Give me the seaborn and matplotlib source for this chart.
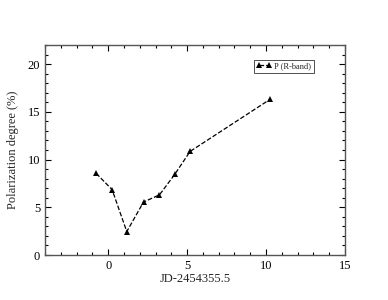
import matplotlib
matplotlib.use("Agg")
import matplotlib.pyplot as plt
import seaborn as sns
import pandas as pd
from matplotlib.ticker import MultipleLocator

# data
jd = [-0.76, 0.25, 1.18, 2.24, 3.25, 4.22, 5.19, 10.25]
pol = [8.55, 6.85, 2.45, 5.55, 6.3, 8.45, 10.85, 16.3]
df = pd.DataFrame({"jd": jd, "pol": pol})

sns.set_style("ticks")
plt.rcParams["font.family"] = ["Liberation Serif", "DejaVu Serif"]

fig = plt.figure(figsize=(3.88, 3.0), dpi=100)
ax = fig.add_axes([0.116, 0.15, 0.773, 0.70])

sns.lineplot(data=df, x="jd", y="pol", ax=ax, color="black", linestyle="--",
             linewidth=0.9, marker="^", markersize=5, markeredgewidth=0,
             label="P (R-band)")

ax.set_xlim(-4, 15)
ax.set_ylim(0, 22)
ax.xaxis.set_major_locator(MultipleLocator(5))
ax.xaxis.set_minor_locator(MultipleLocator(1))
ax.yaxis.set_major_locator(MultipleLocator(5))
ax.yaxis.set_minor_locator(MultipleLocator(1))
ax.tick_params(which="both", direction="in", top=True, right=True,
               labelsize=9, colors="black", width=0.8)
ax.tick_params(which="major", length=4)
ax.tick_params(which="minor", length=2.5)
for s in ax.spines.values():
    s.set_color("#555555")
    s.set_linewidth(1.0)

ax.set_xlabel("JD-2454355.5", fontsize=9, labelpad=1)
ax.set_ylabel("Polarization degree (%)", fontsize=9, labelpad=6)

leg = ax.legend(loc="upper right", bbox_to_anchor=(0.91, 0.95), fontsize=6,
                frameon=True, fancybox=False, handlelength=1.8, numpoints=2,
                borderpad=0.3, handletextpad=0.3)
leg.get_frame().set_edgecolor("black")
leg.get_frame().set_linewidth(0.6)

fig.savefig("out.png", dpi=100)
